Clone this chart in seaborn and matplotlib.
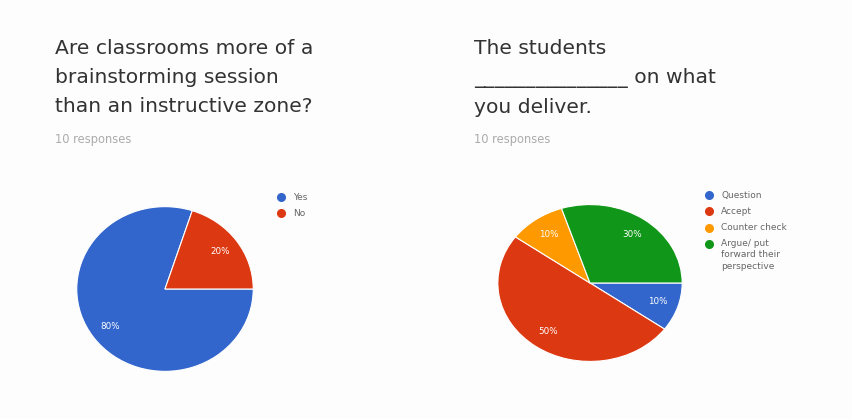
import matplotlib
matplotlib.use("Agg")
import matplotlib.pyplot as plt
from matplotlib.lines import Line2D
import seaborn as sns

sns.set_theme(style="white")
plt.rcParams["font.family"] = ["DejaVu Sans"]

# Survey question 1
q1_title = "Are classrooms more of a\nbrainstorming session\nthan an instructive zone?"
q1_responses = "10 responses"
q1_labels = ["Yes", "No"]
q1_values = [80, 20]

# Survey question 2
q2_title = "The students\n_______________ on what\nyou deliver."
q2_responses = "10 responses"
q2_labels = ["Question", "Accept", "Counter check", "Argue/ put\nforward their\nperspective"]
q2_values = [10, 50, 10, 30]

palette = ["#3366cc", "#dc3912", "#ff9900", "#109618"]

W, H = 852, 419
fig = plt.figure(figsize=(W / 100, H / 100), dpi=100)
fig.patch.set_facecolor("#fdfdfd")


def px_axes(cx, cy, rx, ry):
    """Axes whose [-1, 1] box spans the ellipse centred at pixel (cx, cy)."""
    return fig.add_axes([(cx - rx) / W, 1 - (cy + ry) / H, 2 * rx / W, 2 * ry / H])


def draw_pie(ax, values, colors):
    wedges, _, autotexts = ax.pie(
        values, colors=colors, startangle=0, counterclock=False,
        autopct="%1.0f%%", pctdistance=0.77, radius=1,
        wedgeprops=dict(linewidth=0.8, edgecolor="white"),
        textprops=dict(color="white", fontsize=6.3),
    )
    ax.set_xlim(-1.02, 1.02)
    ax.set_ylim(-1.02, 1.02)
    ax.set_aspect("auto")
    ax.axis("off")
    return wedges


def header(x, title, responses):
    fig.text(x / W, 1 - 39 / H, title, fontsize=14.6, color="#333333",
             va="top", ha="left", linespacing=1.66)
    fig.text(x / W, 1 - 139 / H, responses, fontsize=8.3, color="#ababab",
             va="center", ha="left")


def legend(x, y, labels, colors, step):
    for i, (lab, col) in enumerate(zip(labels, colors)):
        yy = y + i * step
        fig.add_artist(Line2D([x / W], [1 - yy / H], marker="o", markersize=5.5,
                              color=col, linestyle="none"))
        multi = "\n" in lab
        ty = 1 - (yy - 5) / H if multi else 1 - yy / H
        fig.text((x + 12) / W, ty, lab, fontsize=6.5, color="#666666",
                 va="top" if multi else "center", ha="left", linespacing=1.35)


header(55, q1_title, q1_responses)
header(474, q2_title, q2_responses)

ax1 = px_axes(165, 289, 90, 84)
draw_pie(ax1, q1_values, palette[:2])
legend(281, 197, q1_labels, palette[:2], 16)

ax2 = px_axes(590, 283, 94, 80)
draw_pie(ax2, q2_values, palette)
legend(709, 195, q2_labels, palette, 16.3)

fig.savefig("out.png", dpi=100, facecolor=fig.get_facecolor())
